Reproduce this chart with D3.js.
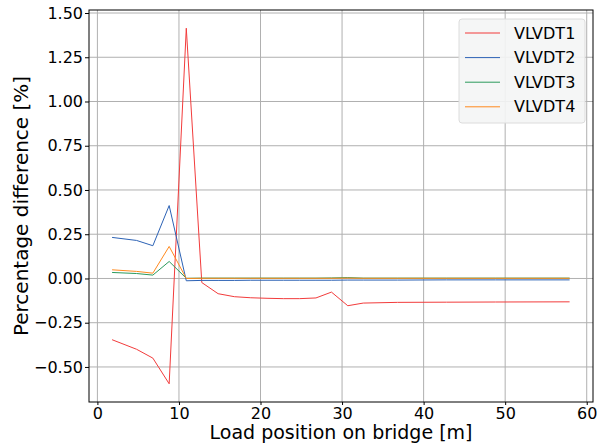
<!DOCTYPE html>
<html>
<head>
<meta charset="utf-8">
<script src="https://cdn.jsdelivr.net/npm/d3@7"></script>
<style>
body { margin: 0; background: #fff; }
text { font-family: "DejaVu Sans", sans-serif; fill: #000; }
</style>
</head>
<body>
<div id="chart"></div>
<script>
// load positions [m]
var positions = [1.8, 4.8, 6.8, 8.8, 10.9, 12.8, 14.8, 16.8, 18.8, 20.8, 22.8, 24.8, 26.8, 28.7, 30.7, 32.6, 36.8, 42.8, 48.8, 57.9];

var vlvdt1 = [-0.346, -0.40, -0.45, -0.595, 1.414, -0.023, -0.086, -0.103, -0.109, -0.112, -0.114, -0.114, -0.110, -0.077, -0.154, -0.139, -0.135, -0.134, -0.133, -0.132];
var vlvdt2 = [0.232, 0.215, 0.185, 0.412, -0.013, -0.011, -0.011, -0.011, -0.010, -0.010, -0.010, -0.010, -0.010, -0.010, -0.009, -0.009, -0.009, -0.008, -0.008, -0.008];
var vlvdt3 = [0.034, 0.028, 0.019, 0.096, 0.001, 0.002, 0.002, 0.002, 0.002, 0.002, 0.002, 0.002, 0.002, 0.003, 0.005, 0.002, 0.002, 0.002, 0.002, 0.002];
var vlvdt4 = [0.049, 0.040, 0.030, 0.181, 0.000, 0.001, 0.001, 0.001, 0.001, 0.001, 0.001, 0.001, 0.001, 0.001, 0.002, 0.001, 0.001, 0.001, 0.001, 0.001];

var seriesNames = ['VLVDT1', 'VLVDT2', 'VLVDT3', 'VLVDT4'];
var seriesColors = ['#f23b3b', '#2c62b5', '#2b9a5c', '#ff8a1f'];
var xTicks = [0, 10, 20, 30, 40, 50, 60];
var yTicks = [-0.5, -0.25, 0, 0.25, 0.5, 0.75, 1.0, 1.25, 1.5];

var width = 597, height = 445,
    margins = {left: 89, right: 4, top: 10, bottom: 43};

var series = [vlvdt1, vlvdt2, vlvdt3, vlvdt4].map(function(vals, i) {
    return {
        name: seriesNames[i],
        color: seriesColors[i],
        values: vals.map(function(v, j) { return [positions[j], v]; })
    };
});

var svg = d3.select('#chart').append('svg')
    .attr('width', width)
    .attr('height', height);

var x = d3.scaleLinear().domain([-1.03, 60.77]).range([margins.left, width - margins.right]);
var y = d3.scaleLinear().domain([-0.698, 1.517]).range([height - margins.bottom, margins.top]);

// grid
svg.append('g').selectAll('line.vg')
    .data(xTicks).enter().append('line')
    .attr('x1', d => x(d)).attr('x2', d => x(d))
    .attr('y1', margins.top).attr('y2', height - margins.bottom)
    .attr('stroke', '#b0b0b0').attr('stroke-width', 1);

svg.append('g').selectAll('line.hg')
    .data(yTicks).enter().append('line')
    .attr('x1', margins.left).attr('x2', width - margins.right)
    .attr('y1', d => y(d)).attr('y2', d => y(d))
    .attr('stroke', '#b0b0b0').attr('stroke-width', 1);

// lines
var line = d3.line().x(d => x(d[0])).y(d => y(d[1]));

svg.append('g').selectAll('path')
    .data(series).enter().append('path')
    .attr('d', d => line(d.values))
    .attr('fill', 'none')
    .attr('stroke', d => d.color)
    .attr('stroke-width', 1);

// axes
var xAxis = svg.append('g')
    .attr('transform', 'translate(0,' + (height - margins.bottom) + ')')
    .call(d3.axisBottom(x).tickValues(xTicks).tickSize(3).tickPadding(2.5).tickFormat(d3.format('d')));
xAxis.selectAll('text').style('font-size', '16px');

var yAxis = svg.append('g')
    .attr('transform', 'translate(' + margins.left + ',0)')
    .call(d3.axisLeft(y).tickValues(yTicks).tickSize(4).tickPadding(2)
        .tickFormat(d => d3.format('.2f')(d).replace('-', '\u2212')));
yAxis.selectAll('text').style('font-size', '16px');

[xAxis, yAxis].forEach(function(a) {
    a.select('.domain').remove();
    a.selectAll('line').attr('stroke', '#000');
});

// frame
svg.append('rect')
    .attr('x', margins.left).attr('y', margins.top)
    .attr('width', width - margins.left - margins.right)
    .attr('height', height - margins.top - margins.bottom)
    .attr('fill', 'none').attr('stroke', '#000').attr('stroke-width', 1);

// axis labels
svg.append('text')
    .attr('x', (margins.left + width - margins.right) / 2)
    .attr('y', 439)
    .attr('text-anchor', 'middle')
    .style('font-size', '19px')
    .text('Load position on bridge [m]');

svg.append('text')
    .attr('transform', 'translate(28,' + (margins.top + (height - margins.top - margins.bottom) / 2) + ') rotate(-90)')
    .attr('text-anchor', 'middle')
    .style('font-size', '20px')
    .text('Percentage difference [%]');

// legend
var legend = svg.append('g').attr('transform', 'translate(459,19)');
legend.append('rect')
    .attr('width', 126).attr('height', 104).attr('rx', 3)
    .attr('fill', '#f4f5f5').attr('fill-opacity', 0.9)
    .attr('stroke', '#dcdcdc');

var items = legend.selectAll('g.item')
    .data(series).enter().append('g')
    .attr('transform', (d, i) => 'translate(0,' + (14 + i * 24.6) + ')');
items.append('line')
    .attr('x1', 6).attr('x2', 41)
    .attr('stroke', d => d.color).attr('stroke-width', 1);
items.append('text')
    .attr('x', 55).attr('dy', '0.35em')
    .style('font-size', '16px')
    .text(d => d.name);
</script>
</body>
</html>
